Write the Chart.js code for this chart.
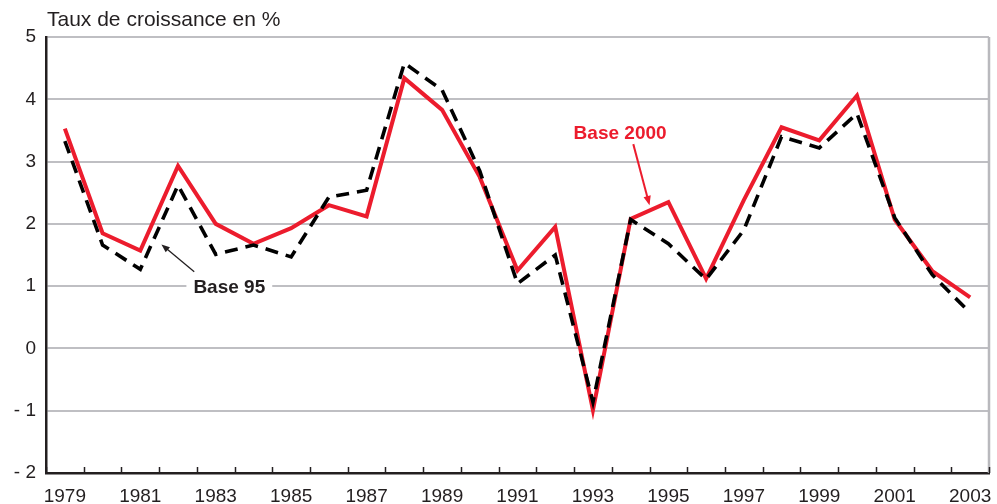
<!DOCTYPE html>
<html>
<head>
<meta charset="utf-8">
<script src="https://cdn.jsdelivr.net/npm/chart.js@4.4.1/dist/chart.umd.min.js"></script>
<style>
  html, body { margin: 0; padding: 0; background: #fff; }
  #wrap { width: 997px; height: 504px; position: relative; }
</style>
</head>
<body>
<div id="wrap"><canvas id="grafico"></canvas></div>
<script>
const annees = ['1979', '1980', '1981', '1982', '1983', '1984', '1985', '1986', '1987', '1988',
  '1989', '1990', '1991', '1992', '1993', '1994', '1995', '1996', '1997', '1998',
  '1999', '2000', '2001', '2002', '2003'];

const base2000 = [3.53, 1.85, 1.57, 2.93, 2.00, 1.68, 1.93, 2.30, 2.12, 4.34,
  3.83, 2.75, 1.25, 1.95, -0.99, 2.08, 2.35, 1.12, 2.38, 3.55,
  3.34, 4.06, 2.07, 1.24, 0.82];

const base95 = [3.33, 1.66, 1.27, 2.62, 1.51, 1.66, 1.47, 2.43, 2.54, 4.58,
  4.15, 2.85, 1.04, 1.50, -0.86, 2.07, 1.68, 1.11, 1.90, 3.40,
  3.22, 3.77, 2.10, 1.18, 0.57];

const yMin = -2;
const yMax = 5;
const titre = 'Taux de croissance en %';

// annotations en coordonnées de données (index d'année, valeur)
const noteBase95 = { texte: 'Base 95', x: 4.36, y: 0.99, de: [3.43, 1.23], vers: [2.56, 1.67] };
const noteBase2000 = { texte: 'Base 2000', x: 14.72, y: 3.46, de: [15.07, 3.28], vers: [15.50, 2.30] };

const ROUGE = '#ec1c2d';
const NOIR = '#231f20';

function fleche(ctx, x1, y1, x2, y2, couleur, largeur, tete) {
  const ang = Math.atan2(y2 - y1, x2 - x1);
  ctx.save();
  ctx.strokeStyle = couleur;
  ctx.fillStyle = couleur;
  ctx.lineWidth = largeur;
  ctx.beginPath();
  ctx.moveTo(x1, y1);
  ctx.lineTo(x2 - Math.cos(ang) * tete * 0.8, y2 - Math.sin(ang) * tete * 0.8);
  ctx.stroke();
  ctx.beginPath();
  ctx.moveTo(x2, y2);
  ctx.lineTo(x2 - tete * Math.cos(ang - 0.38), y2 - tete * Math.sin(ang - 0.38));
  ctx.lineTo(x2 - tete * Math.cos(ang + 0.38), y2 - tete * Math.sin(ang + 0.38));
  ctx.closePath();
  ctx.fill();
  ctx.restore();
}

const decor = {
  id: 'decor',
  beforeDatasetsDraw(chart) {
    const { ctx, chartArea: a, scales: { x } } = chart;
    ctx.save();
    // bord droit gris
    ctx.strokeStyle = '#b9b9bd';
    ctx.lineWidth = 2.5;
    ctx.beginPath();
    ctx.moveTo(a.right, a.top);
    ctx.lineTo(a.right, a.bottom);
    ctx.stroke();
    // graduations intérieures de l'axe des années
    ctx.strokeStyle = NOIR;
    ctx.lineWidth = 1.5;
    for (let i = 0; i <= annees.length; i++) {
      const px = Math.round(x.getPixelForValue(i - 0.5)) + 0.5;
      ctx.beginPath();
      ctx.moveTo(px, a.bottom);
      ctx.lineTo(px, a.bottom - 6);
      ctx.stroke();
    }
    // titre
    ctx.fillStyle = NOIR;
    ctx.font = '21px "Liberation Sans", Arial, sans-serif';
    ctx.textAlign = 'left';
    ctx.textBaseline = 'alphabetic';
    ctx.fillText(titre, a.left + 1, 26);
    ctx.restore();
  },
  afterDatasetsDraw(chart) {
    const { ctx, scales: { x, y } } = chart;
    ctx.save();
    ctx.font = 'bold 19px "Liberation Sans", Arial, sans-serif';
    ctx.textAlign = 'center';
    ctx.textBaseline = 'middle';

    // Base 95
    let tx = x.getPixelForValue(noteBase95.x);
    let ty = y.getPixelForValue(noteBase95.y);
    const w = ctx.measureText(noteBase95.texte).width;
    ctx.fillStyle = '#fff';
    ctx.fillRect(tx - w / 2 - 7, ty - 10, w + 14, 20);
    ctx.fillStyle = NOIR;
    ctx.fillText(noteBase95.texte, tx, ty + 1);
    fleche(ctx, x.getPixelForValue(noteBase95.de[0]), y.getPixelForValue(noteBase95.de[1]),
      x.getPixelForValue(noteBase95.vers[0]), y.getPixelForValue(noteBase95.vers[1]), NOIR, 1.3, 9);

    // Base 2000
    tx = x.getPixelForValue(noteBase2000.x);
    ty = y.getPixelForValue(noteBase2000.y);
    ctx.fillStyle = ROUGE;
    ctx.fillText(noteBase2000.texte, tx, ty + 1);
    fleche(ctx, x.getPixelForValue(noteBase2000.de[0]), y.getPixelForValue(noteBase2000.de[1]),
      x.getPixelForValue(noteBase2000.vers[0]), y.getPixelForValue(noteBase2000.vers[1]), ROUGE, 2, 10);
    ctx.restore();
  }
};

const ctx = document.getElementById('grafico').getContext('2d');
new Chart(ctx, {
  type: 'line',
  data: {
    labels: annees,
    datasets: [
      {
        label: 'Base 95',
        data: base95,
        borderColor: '#000',
        borderWidth: 3.6,
        borderDash: [13, 8],
        borderJoinStyle: 'miter',
        pointRadius: 0,
        tension: 0,
        fill: false,
        order: 0
      },
      {
        label: 'Base 2000',
        data: base2000,
        borderColor: ROUGE,
        borderWidth: 4,
        borderJoinStyle: 'miter',
        pointRadius: 0,
        tension: 0,
        fill: false,
        order: 1
      }
    ]
  },
  options: {
    responsive: true,
    maintainAspectRatio: false,
    animation: false,
    layout: { padding: { top: 37, right: 8, left: 0, bottom: 0 } },
    plugins: {
      legend: { display: false },
      tooltip: { enabled: false }
    },
    scales: {
      x: {
        offset: true,
        afterFit: s => { s.height = 31; s.paddingLeft = 0; s.paddingRight = 0; },
        grid: { display: false },
        border: { color: NOIR, width: 2.5 },
        ticks: {
          autoSkip: false,
          maxRotation: 0,
          padding: 4,
          color: NOIR,
          font: { family: '"Liberation Sans", Arial, sans-serif', size: 19 },
          callback: (v, i) => (i % 2 === 0 ? annees[i] : '')
        }
      },
      y: {
        min: yMin,
        max: yMax,
        afterFit: s => { s.width = 46; s.paddingTop = 0; s.paddingBottom = 0; },
        grid: { color: '#bfbfc3', lineWidth: 2, drawTicks: false },
        border: { color: NOIR, width: 2.5 },
        ticks: {
          stepSize: 1,
          padding: 10,
          color: NOIR,
          font: { family: '"Liberation Sans", Arial, sans-serif', size: 19 },
          callback: v => (v < 0 ? '- ' + Math.abs(v) : String(v))
        }
      }
    }
  },
  plugins: [decor]
});
</script>
</body>
</html>
